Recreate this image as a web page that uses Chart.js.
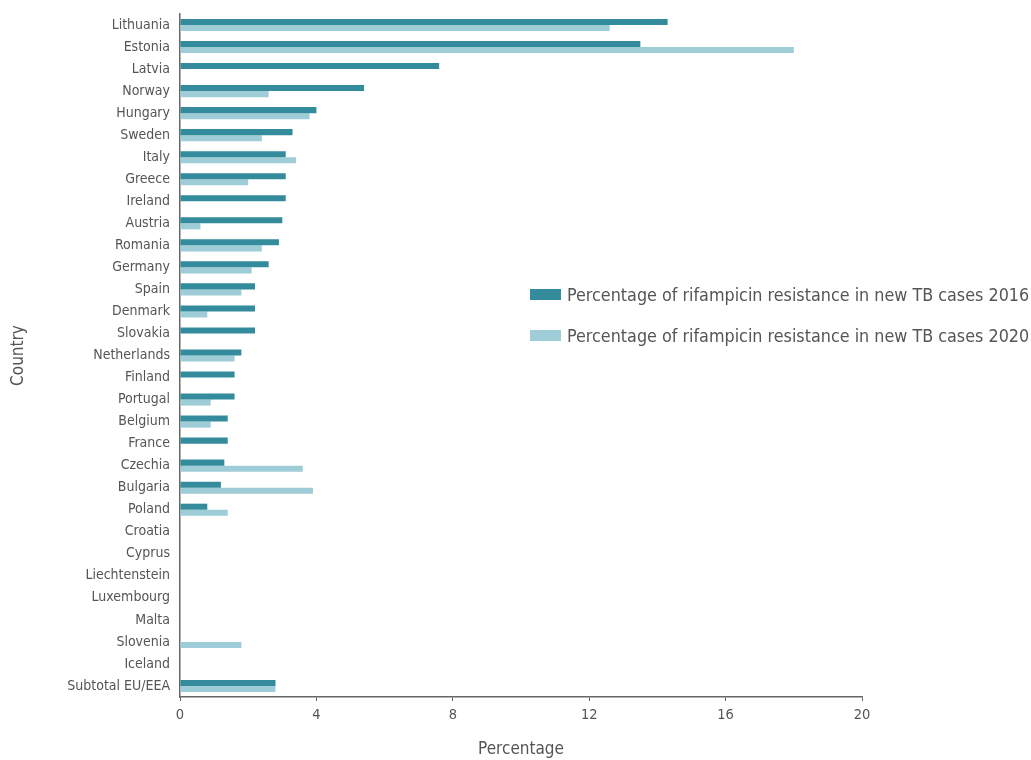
<!DOCTYPE html>
<html>
<head>
<meta charset="utf-8">
<script src="https://cdn.jsdelivr.net/npm/chart.js@4.4.0/dist/chart.umd.min.js"></script>
<style>
  html, body { margin: 0; padding: 0; background: #fff; }
  #wrap { position: relative; width: 1031px; height: 760px; }
  #legend { position: absolute; left: 530px; top: 283px; font-family: "DejaVu Sans Condensed", sans-serif; font-size: 17.8px; color: #555; }
  #legend .row { display: flex; align-items: center; height: 22px; margin-bottom: 19px; }
  #legend .sw { width: 31px; height: 11px; margin-right: 6px; }
</style>
</head>
<body>
<div id="wrap">
  <canvas id="c" width="1031" height="760"></canvas>
  <div id="legend"></div>
</div>
<script>
const countries = ['Lithuania','Estonia','Latvia','Norway','Hungary','Sweden','Italy','Greece','Ireland','Austria',
  'Romania','Germany','Spain','Denmark','Slovakia','Netherlands','Finland','Portugal','Belgium','France',
  'Czechia','Bulgaria','Poland','Croatia','Cyprus','Liechtenstein','Luxembourg','Malta','Slovenia','Iceland',
  'Subtotal EU/EEA'];
const pct2016 = [14.3, 13.5, 7.6, 5.4, 4.0, 3.3, 3.1, 3.1, 3.1, 3.0,
  2.9, 2.6, 2.2, 2.2, 2.2, 1.8, 1.6, 1.6, 1.4, 1.4,
  1.3, 1.2, 0.8, 0, 0, 0, 0, 0, null, null,
  2.8];
const pct2020 = [12.6, 18.0, null, 2.6, 3.8, 2.4, 3.4, 2.0, null, 0.6,
  2.4, 2.1, 1.8, 0.8, null, 1.6, null, 0.9, 0.9, null,
  3.6, 3.9, 1.4, 0, 0, 0, 0, 0, 1.8, null,
  2.8];
const xTicks = [0, 4, 8, 12, 16, 20];
const label2016 = 'Percentage of rifampicin resistance in new TB cases 2016';
const label2020 = 'Percentage of rifampicin resistance in new TB cases 2020';

const DARK = '#338b9b', LIGHT = '#9ecdd7', TXT = '#555', AXIS = '#666';
const FONT = '"DejaVu Sans Condensed", sans-serif';

const datasets = [
  { label: label2016, data: pct2016, backgroundColor: DARK },
  { label: label2020, data: pct2020, backgroundColor: LIGHT },
];

new Chart(document.getElementById('c'), {
  type: 'bar',
  data: { labels: countries, datasets },
  options: {
    indexAxis: 'y',
    responsive: false,
    animation: false,
    devicePixelRatio: 1,
    datasets: { bar: { barPercentage: 1, categoryPercentage: 0.55 } },
    layout: { padding: { top: 14, right: 169, bottom: 0, left: 8 } },
    plugins: { legend: { display: false }, tooltip: { enabled: false } },
    scales: {
      x: {
        min: 0, max: 20,
        afterBuildTicks: s => { s.ticks = xTicks.map(v => ({ value: v })); },
        afterFit: s => { s.height = 63; },
        grid: { display: true, drawOnChartArea: false, drawTicks: true, tickLength: 4, color: AXIS },
        border: { display: true, color: AXIS, width: 1.5 },
        ticks: { color: TXT, padding: 6, font: { family: FONT, size: 14.5 } },
        title: { display: true, text: 'Percentage', color: TXT, padding: { top: 15, bottom: 0 }, font: { family: FONT, size: 17 } }
      },
      y: {
        afterFit: s => { s.width = 172; s.paddingTop = 0; s.paddingBottom = 0; },
        grid: { display: false, drawTicks: false },
        border: { display: true, color: AXIS, width: 1.5 },
        ticks: { color: TXT, padding: 10, autoSkip: false, font: { family: FONT, size: 14 } },
        title: { display: true, text: 'Country', color: TXT, padding: { top: 0, bottom: 0 }, font: { family: FONT, size: 17 } }
      }
    }
  }
});

document.getElementById('legend').innerHTML = datasets.map(d =>
  `<div class="row"><span class="sw" style="background:${d.backgroundColor}"></span><span>${d.label}</span></div>`
).join('');
</script>
</body>
</html>
